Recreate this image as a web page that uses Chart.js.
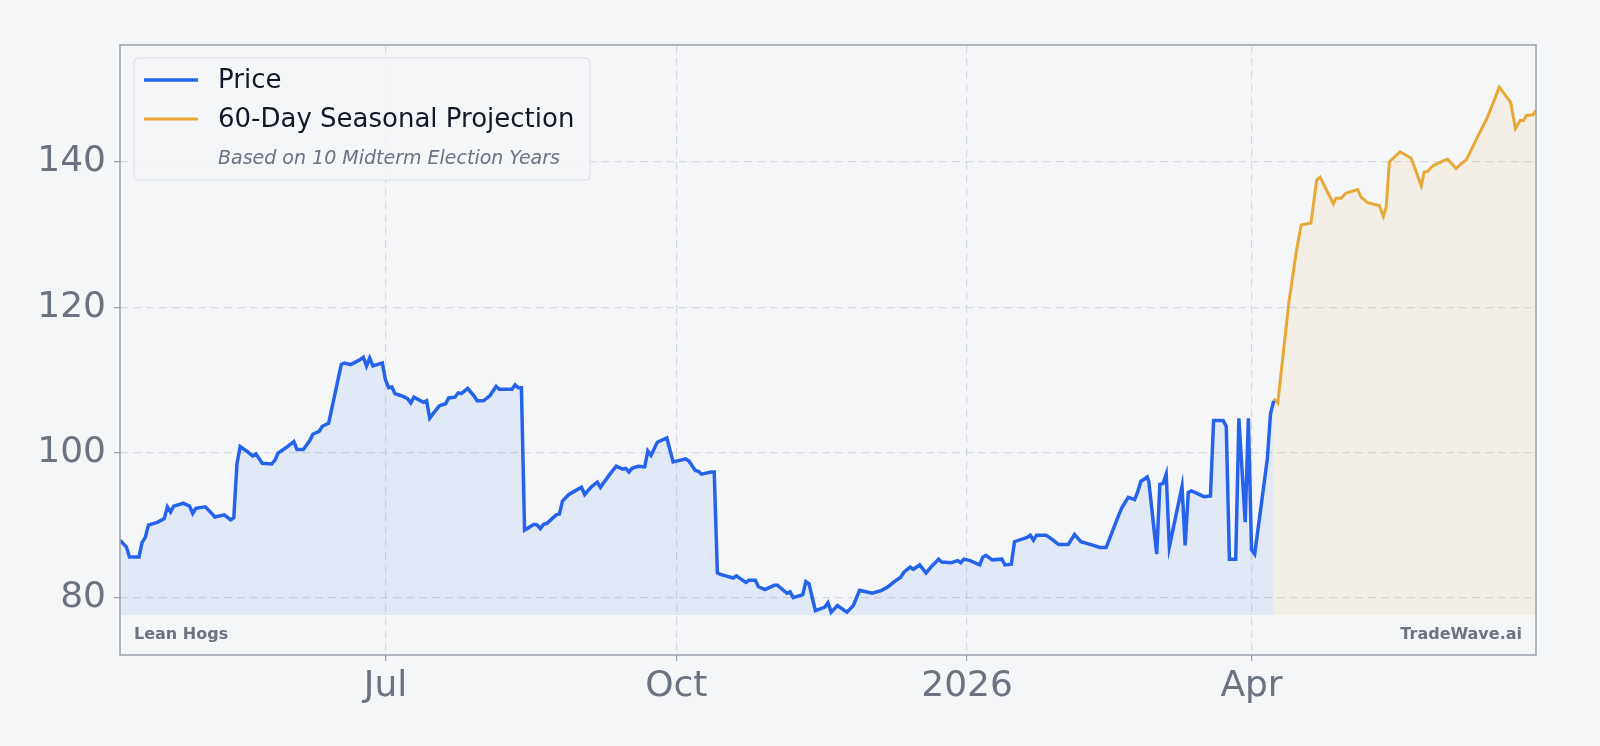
<!DOCTYPE html>
<html>
<head>
<meta charset="utf-8">
<script src="https://cdn.jsdelivr.net/npm/chart.js@4"></script>
<style>
  html, body { margin: 0; padding: 0; background: #f5f6f8; }
  #wrap { width: 1600px; height: 746px; }
</style>
</head>
<body>
<div id="wrap"><canvas id="chart" width="1600" height="746"></canvas></div>
<script>
// x values are days since 2025-01-01
const priceDays = [97,99,100,103,104,105,106,109,111,112,113,114,117,119,120,121,124,126,127,130,132,133,134,135,137,139,140,142,145,146,147,150,152,153,155,157,158,160,161,163,167,168,170,173,174,175,176,177,180,181,182,183,184,186,188,189,190,193,194,195,196,198,200,201,203,204,205,207,209,210,212,214,216,217,221,222,223,224,225,228,229,230,231,232,235,236,237,239,241,243,244,246,248,249,250,252,254,256,257,258,259,261,263,264,265,267,270,272,273,276,277,279,280,281,284,285,286,287,291,292,295,296,298,299,301,304,305,308,309,310,313,314,315,317,320,321,322,324,327,329,331,333,335,338,340,342,344,345,347,348,350,352,354,356,357,360,362,363,364,366,369,370,371,373,376,377,379,380,384,385,386,387,390,392,394,397,399,401,405,407,409,413,414,416,418,419,420,422,422.5,425,426,427,428,429,433,434,435,436,440,442,443,446,447,448,450,451,453,454,455,456,460,461,462];
const priceValues = [87.9,87.0,85.6,85.6,87.6,88.3,90.0,90.4,90.9,92.5,91.8,92.6,93.0,92.6,91.6,92.3,92.5,91.6,91.1,91.4,90.7,91.0,98.4,100.8,100.2,99.5,99.8,98.5,98.4,98.9,99.9,100.8,101.5,100.4,100.4,101.6,102.5,102.9,103.6,104.0,112.1,112.3,112.1,112.8,113.1,111.9,113.0,111.9,112.3,110.0,108.9,109.0,108.1,107.8,107.4,106.8,107.6,106.9,107.1,104.7,105.3,106.4,106.7,107.5,107.6,108.2,108.1,108.8,107.8,107.1,107.1,107.8,109.1,108.7,108.7,109.3,108.9,108.9,89.3,90.1,90.0,89.5,90.1,90.2,91.4,91.5,93.3,94.2,94.7,95.2,94.2,95.2,95.9,95.2,95.8,97.0,98.1,97.7,97.8,97.3,97.8,98.1,98.0,100.2,99.6,101.4,102.0,98.7,98.8,99.1,98.8,97.5,97.4,97.0,97.3,97.3,83.4,83.2,82.7,83.0,82.1,82.4,82.4,81.5,81.1,81.7,81.7,80.6,80.8,80.0,80.4,82.2,81.9,78.2,78.7,79.3,78.0,78.9,78.0,78.9,81.0,80.8,80.6,81.0,81.5,82.2,82.8,83.5,84.2,83.9,84.5,83.4,84.4,85.3,84.9,84.8,85.1,84.8,85.3,85.1,84.5,85.6,85.8,85.2,85.3,84.5,84.6,87.7,88.3,88.6,87.9,88.6,88.6,88.0,87.3,87.3,88.7,87.7,87.2,86.9,86.9,91.4,92.4,93.8,93.5,94.6,96.0,96.6,96.0,86.0,95.6,95.7,97.0,87.0,95.3,87.2,94.5,94.7,93.9,94.0,104.4,104.4,103.6,85.3,85.3,104.7,90.4,104.7,86.6,86.0,99.1,105.3,107.1];
const projDays = [462,463.3,466.8,469.1,470.7,473.8,475.6,476.7,480.9,481.7,483.3,484.9,488.6,489.6,491.7,495.4,496.7,497.6,498.6,502,505.5,508.7,509.6,510.7,512.5,517,519.7,523.1,526,529.7,533.4,537,538.5,540,541,542,544,545];
const projValues = [107.4,106.8,120.6,127.5,131.3,131.6,137.5,137.9,134.2,135.0,135.0,135.7,136.2,135.2,134.4,134.0,132.5,133.8,140.0,141.4,140.5,136.7,138.6,138.7,139.5,140.4,139.1,140.4,143.0,146.2,150.3,148.2,144.6,145.7,145.7,146.4,146.5,147.1];
const xTickDays = [181, 273, 365, 455];
const xTickLabels = ["Jul", "Oct", "2026", "Apr"];
const yTicks = [80, 100, 120, 140];

const toPoints = (xs, ys) => xs.map((x, i) => ({ x, y: ys[i] }));
const GRAY = "#6b7280";

const extras = {
  id: "extras",
  afterDraw(chart) {
    const { ctx, chartArea: a } = chart;
    ctx.save();
    ctx.strokeStyle = "#9aa0ae";
    ctx.lineWidth = 1.5;
    ctx.strokeRect(a.left, a.top, a.right - a.left, a.bottom - a.top);

    // legend box
    const lx = 134, ly = 58, lw = 456, lh = 122;
    ctx.fillStyle = "rgba(245,246,248,0.85)";
    ctx.strokeStyle = "#d9dce2";
    ctx.lineWidth = 1;
    ctx.beginPath();
    ctx.roundRect(lx, ly, lw, lh, 4);
    ctx.fill();
    ctx.stroke();
    ctx.lineWidth = 3.5;
    ctx.strokeStyle = "#2563eb";
    ctx.beginPath(); ctx.moveTo(144, 80); ctx.lineTo(198, 80); ctx.stroke();
    ctx.lineWidth = 3;
    ctx.strokeStyle = "#e8a838";
    ctx.beginPath(); ctx.moveTo(144, 119); ctx.lineTo(198, 119); ctx.stroke();
    ctx.fillStyle = "#111827";
    ctx.font = "26px 'DejaVu Sans'";
    ctx.textBaseline = "middle";
    ctx.fillText("Price", 218, 81);
    ctx.fillText("60-Day Seasonal Projection", 218, 120);
    ctx.fillStyle = GRAY;
    ctx.font = "italic 19px 'DejaVu Sans'";
    ctx.fillText("Based on 10 Midterm Election Years", 218, 159);

    ctx.font = "bold 16px 'DejaVu Sans'";
    ctx.fillStyle = GRAY;
    ctx.textBaseline = "alphabetic";
    ctx.fillText("Lean Hogs", a.left + 14, a.bottom - 16);
    ctx.textAlign = "right";
    ctx.fillText("TradeWave.ai", a.right - 14, a.bottom - 16);
    ctx.restore();
  }
};

new Chart(document.getElementById("chart"), {
  type: "line",
  data: {
    datasets: [
      {
        label: "Price",
        data: toPoints(priceDays, priceValues),
        borderColor: "#2563eb",
        backgroundColor: "rgba(37,99,235,0.09)",
        borderWidth: 3.5,
        pointRadius: 0,
        tension: 0,
        fill: { value: 77.6 }
      },
      {
        label: "60-Day Seasonal Projection",
        data: toPoints(projDays, projValues),
        borderColor: "#e8a838",
        backgroundColor: "rgba(232,168,56,0.09)",
        borderWidth: 3,
        pointRadius: 0,
        tension: 0,
        fill: { value: 77.6 }
      }
    ]
  },
  options: {
    responsive: false,
    animation: false,
    layout: { padding: { top: 45, right: 64, left: 0, bottom: 0 } },
    plugins: { legend: { display: false }, tooltip: { enabled: false } },
    scales: {
      x: {
        type: "linear",
        min: 97,
        max: 545,
        afterFit: s => { s.height = 91; },
        afterBuildTicks: s => { s.ticks = xTickDays.map(v => ({ value: v })); },
        ticks: {
          autoSkip: false,
          maxRotation: 0,
          color: GRAY,
          font: { family: "DejaVu Sans", size: 36 },
          padding: 4,
          callback: v => xTickLabels[xTickDays.indexOf(v)]
        },
        grid: { color: "#d6d9df", lineWidth: 1.2, tickLength: 6, tickColor: "#9aa0ae" },
        border: { display: false, dash: [8, 5] }
      },
      y: {
        min: 72.1,
        max: 156.1,
        afterFit: s => { s.width = 120; },
        afterBuildTicks: s => { s.ticks = yTicks.map(v => ({ value: v })); },
        ticks: {
          color: GRAY,
          font: { family: "DejaVu Sans", size: 36 },
          padding: 8
        },
        grid: { color: "#d6d9df", lineWidth: 1.2, tickLength: 6, tickColor: "#9aa0ae" },
        border: { display: false, dash: [8, 5] }
      }
    }
  },
  plugins: [extras]
});
</script>
</body>
</html>
